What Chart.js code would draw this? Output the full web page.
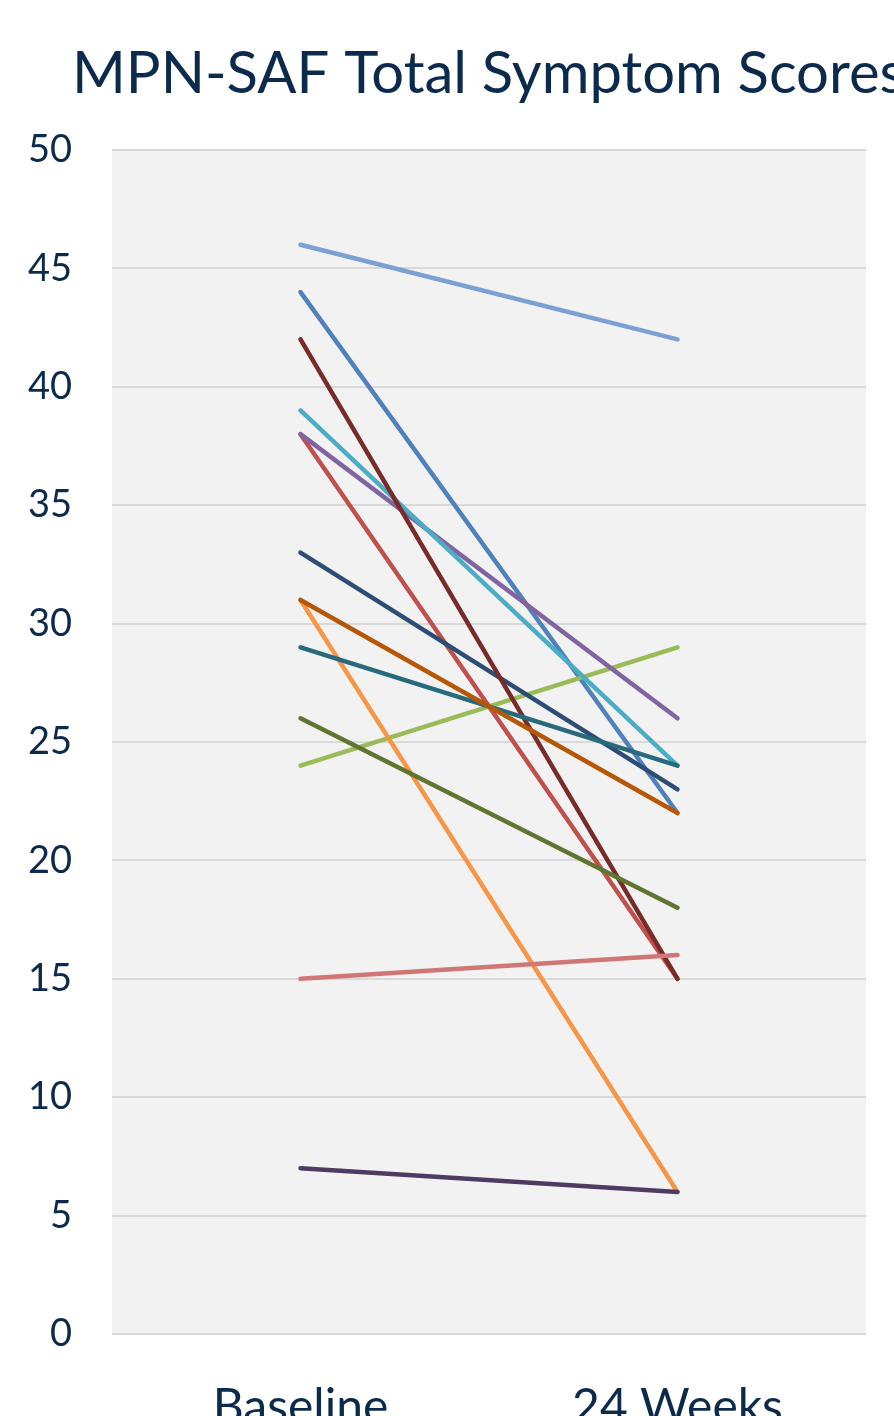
<!DOCTYPE html>
<html>
<head>
<meta charset="utf-8">
<script src="https://cdn.jsdelivr.net/npm/chart.js@4.4.0/dist/chart.umd.min.js"></script>
<style>
  body { margin: 0; overflow: hidden; background: #fff; }
  #wrap { width: 894px; height: 1416px; overflow: hidden; }
</style>
</head>
<body>
<div id="wrap">
  <canvas id="grafico" width="894" height="1460"></canvas>
</div>
<script>
const categorias = ['Baseline', '24 Weeks'];

// one line per patient, in the order Excel stacked them
const baseline = [44, 38, 24, 38, 39, 31, 33, 42, 26, 7, 29, 31, 46, 15];
const semana24 = [22, 15, 29, 26, 24, 6, 23, 15, 18, 6, 24, 22, 42, 16];

const cores = [
    '#4f81bd', '#c0504d', '#9bbb59', '#8064a2', '#4bacc6', '#f79646', '#2c4d75',
    '#772c2a', '#5f7530', '#4d3b62', '#276a7c', '#b65708', '#7aa0d4', '#d07775'
];

const yTicks = [0, 5, 10, 15, 20, 25, 30, 35, 40, 45, 50];

const titulo = 'MPN-SAF Total Symptom Scores';
const corTexto = '#0c2a4b';
const fonte = 'Lato, "Open Sans", sans-serif';

const fundoPlot = {
    id: 'fundoPlot',
    beforeDraw(chart) {
        const { ctx, chartArea: a } = chart;
        ctx.save();
        ctx.fillStyle = '#f2f2f2';
        ctx.fillRect(a.left, a.top, a.right - a.left, a.bottom - a.top);
        ctx.restore();
    },
    afterDraw(chart) {
        // title runs off the right edge in the original, so draw it by hand
        const ctx = chart.ctx;
        ctx.save();
        ctx.font = '58px ' + fonte;
        ctx.fillStyle = corTexto;
        ctx.textAlign = 'left';
        ctx.textBaseline = 'alphabetic';
        ctx.fillText(titulo, 72, 93);
        ctx.restore();
    }
};

const datasets = baseline.map((v, i) => ({
    label: 'Paciente ' + (i + 1),
    data: [v, semana24[i]],
    borderColor: cores[i],
    backgroundColor: cores[i],
    borderWidth: 4.5,
    borderCapStyle: 'round',
    borderJoinStyle: 'round',
    pointRadius: 0,
    tension: 0,
    order: baseline.length - i
}));

new Chart(document.getElementById('grafico'), {
    type: 'line',
    data: { labels: categorias, datasets: datasets },
    options: {
        responsive: false,
        animation: false,
        layout: { padding: { top: 150, right: 28, left: 0, bottom: 0 } },
        plugins: {
            legend: { display: false },
            title: { display: false },
            tooltip: { enabled: false }
        },
        scales: {
            x: {
                offset: true,
                grid: { display: false },
                border: { display: false },
                ticks: {
                    color: corTexto,
                    font: { family: fonte, size: 48 },
                    padding: 37,
                    maxRotation: 0
                },
                afterFit(scale) { scale.height = 126; }
            },
            y: {
                min: 0,
                max: 50,
                afterBuildTicks(scale) { scale.ticks = yTicks.map(v => ({ value: v })); },
                grid: { color: '#d9d9d9', lineWidth: 2, drawTicks: false },
                border: { display: false },
                ticks: {
                    color: corTexto,
                    font: { family: fonte, size: 38 },
                    padding: 40
                },
                afterFit(scale) { scale.width = 112; }
            }
        }
    },
    plugins: [fundoPlot]
});
</script>
</body>
</html>
